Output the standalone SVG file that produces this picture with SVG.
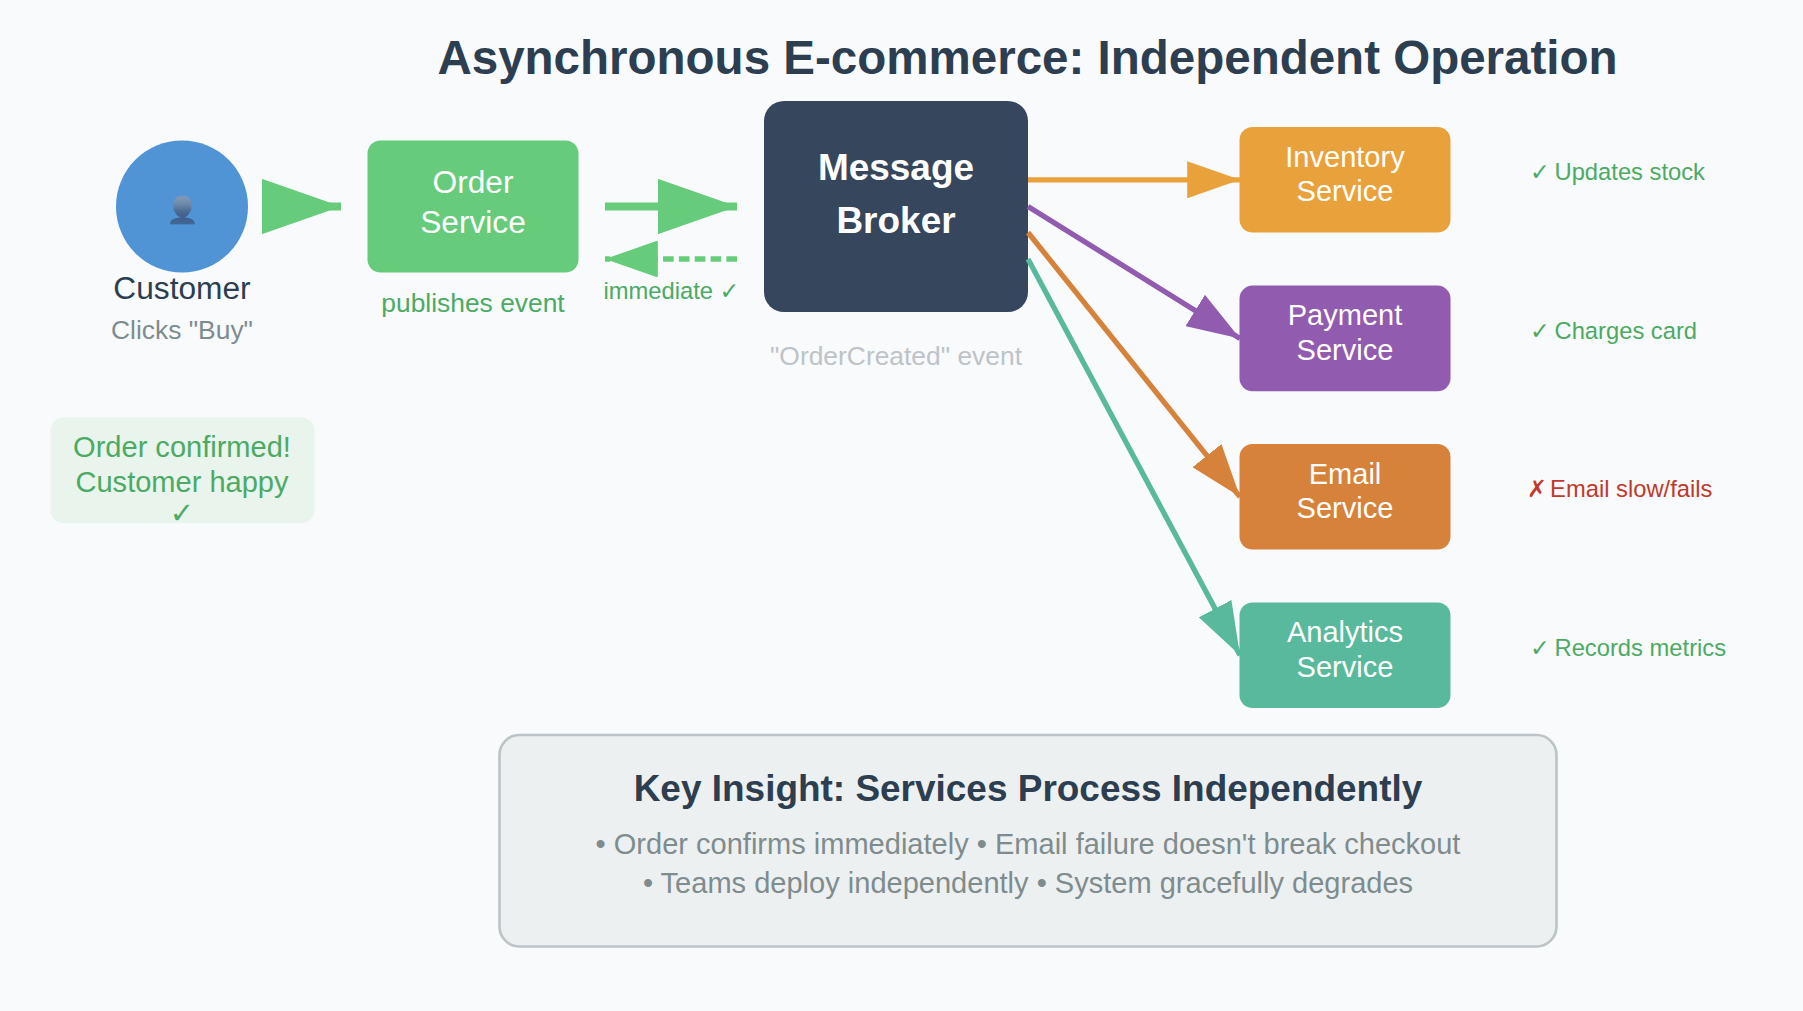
<svg xmlns="http://www.w3.org/2000/svg" width="1803" height="1011" viewBox="0 0 1803 1011">
<style>
text{font-family:"Liberation Sans",Arial,"DejaVu Sans",sans-serif;text-anchor:middle}
.w{fill:#fff;font-size:29.04px}
.g{fill:#4caa64}
.s{font-size:23.76px;text-anchor:start}
.sub{font-size:26.4px}
.ins{font-size:29.04px;fill:#7f8c8d}
.ln{fill:none}
</style>
<defs>
<marker id="mG" markerUnits="strokeWidth" markerWidth="10" markerHeight="7" refX="10" refY="3.5" orient="auto"><polygon points="0 0,10 3.5,0 7" fill="#66cb7a"/></marker>
<marker id="mI" markerUnits="strokeWidth" markerWidth="10" markerHeight="7" refX="10" refY="3.5" orient="auto"><polygon points="0 0,10 3.5,0 7" fill="#e9a13b"/></marker>
<marker id="mP" markerUnits="strokeWidth" markerWidth="10" markerHeight="7" refX="10" refY="3.5" orient="auto"><polygon points="0 0,10 3.5,0 7" fill="#915bb0"/></marker>
<marker id="mE" markerUnits="strokeWidth" markerWidth="10" markerHeight="7" refX="10" refY="3.5" orient="auto"><polygon points="0 0,10 3.5,0 7" fill="#d6823b"/></marker>
<marker id="mA" markerUnits="strokeWidth" markerWidth="10" markerHeight="7" refX="10" refY="3.5" orient="auto"><polygon points="0 0,10 3.5,0 7" fill="#58b99c"/></marker>
<filter id="silhouette" filterUnits="userSpaceOnUse" x="160" y="185" width="44" height="44" primitiveUnits="userSpaceOnUse" color-interpolation-filters="sRGB">
<feFlood x="160" y="185" width="44" height="22" flood-color="#8199b5" result="a"/>
<feFlood x="160" y="207" width="44" height="22" flood-color="#3e5f8b" result="b"/>
<feMerge result="m"><feMergeNode in="a"/><feMergeNode in="b"/></feMerge>
<feGaussianBlur in="m" stdDeviation="0 6" result="c"/>
<feComposite in="c" in2="SourceAlpha" operator="in"/>
</filter>
</defs>
<rect width="1803" height="1011" fill="#f8fafc"/>
<text id="title" x="1027.5" y="73.5" font-size="47.52" font-weight="700" fill="#2c3e50">Asynchronous E-commerce: Independent Operation</text>
<g id="customer">
<circle cx="182" cy="206.5" r="66" fill="#5094d6"/>
<text x="182" y="219" font-size="26.4" filter="url(#silhouette)">👤</text>
<text x="182" y="299" font-size="31.68" fill="#2c3e50">Customer</text>
<text x="182" y="339" class="sub" fill="#7f8c8d">Clicks "Buy"</text>
</g>
<g id="order-service">
<rect x="367.5" y="140.5" width="211" height="132" rx="13" fill="#66cb7a"/>
<text x="473" y="193" font-size="31.68" fill="#fff">Order</text>
<text x="473" y="232.5" font-size="31.68" fill="#fff">Service</text>
<text x="473" y="312" class="sub g">publishes event</text>
</g>
<text id="immediate" x="671.5" y="299" font-size="23.76" class="g">immediate ✓</text>
<g id="broker">
<rect x="764" y="101" width="264" height="211" rx="20" fill="#36465d"/>
<text x="896" y="179.5" font-size="36.96" font-weight="700" fill="#fff">Message</text>
<text x="896" y="232.5" font-size="36.96" font-weight="700" fill="#fff">Broker</text>
<text x="896" y="364.5" class="sub" fill="#bdc3c7">"OrderCreated" event</text>
</g>
<g id="inventory">
<rect x="1239.5" y="127" width="211" height="105.6" rx="13" fill="#e9a13b"/>
<text x="1345" y="167" class="w">Inventory</text><text x="1345" y="201" class="w">Service</text>
<text x="1530" y="180" class="s g">✓<tspan dx="-2"> Updates stock</tspan></text>
</g>
<g id="payment">
<rect x="1239.5" y="285.6" width="211" height="105.6" rx="13" fill="#915bb0"/>
<text x="1345" y="325" class="w">Payment</text><text x="1345" y="360" class="w">Service</text>
<text x="1530" y="339" class="s g">✓<tspan dx="-2"> Charges card</tspan></text>
</g>
<g id="email">
<rect x="1239.5" y="444" width="211" height="105.6" rx="13" fill="#d6823b"/>
<text x="1345" y="484" class="w">Email</text><text x="1345" y="518" class="w">Service</text>
<text x="1527" y="497" class="s" fill="#c0392b">✗<tspan dx="-3.4"> Email slow/fails</tspan></text>
</g>
<g id="analytics">
<rect x="1239.5" y="602.4" width="211" height="105.6" rx="13" fill="#58b99c"/>
<text x="1345" y="642" class="w">Analytics</text><text x="1345" y="677" class="w">Service</text>
<text x="1530" y="656" class="s g">✓<tspan dx="-2"> Records metrics</tspan></text>
</g>
<g id="confirmed">
<rect x="50.5" y="417.5" width="264" height="105.6" rx="13" fill="#e9f4ec"/>
<text x="182" y="457" font-size="29.04" class="g">Order confirmed!</text>
<text x="182" y="492" font-size="29.04" class="g">Customer happy</text>
<text x="182" y="523" font-size="29.04" class="g">✓</text>
</g>
<g id="insight">
<rect x="499.5" y="735" width="1057" height="211.5" rx="20" fill="#ecf0f1" stroke="#bdc3c7" stroke-width="2.64"/>
<text x="1028" y="801" font-size="36.96" font-weight="700" fill="#2c3e50">Key Insight: Services Process Independently</text>
<text x="1028" y="854" class="ins">• Order confirms immediately • Email failure doesn't break checkout</text>
<text x="1028" y="893" class="ins">• Teams deploy independently • System gracefully degrades</text>
</g>
<g id="connectors" class="ln">
<line x1="262" y1="206.5" x2="341" y2="206.5" stroke="#66cb7a" stroke-width="7.92" marker-end="url(#mG)"/>
<line x1="605" y1="206.5" x2="737" y2="206.5" stroke="#66cb7a" stroke-width="7.92" marker-end="url(#mG)"/>
<line x1="737" y1="259" x2="605" y2="259" stroke="#66cb7a" stroke-width="5.28" stroke-dasharray="10.56 5.28" marker-end="url(#mG)"/>
<line x1="1028" y1="179.8" x2="1240" y2="179.8" stroke="#e9a13b" stroke-width="5.28" marker-end="url(#mI)"/>
<line x1="1028" y1="206.5" x2="1240" y2="338.4" stroke="#915bb0" stroke-width="5.28" marker-end="url(#mP)"/>
<line x1="1028" y1="232.5" x2="1240" y2="496.8" stroke="#d6823b" stroke-width="5.28" marker-end="url(#mE)"/>
<line x1="1028" y1="259" x2="1240" y2="655.2" stroke="#58b99c" stroke-width="5.28" marker-end="url(#mA)"/>
</g>
</svg>
